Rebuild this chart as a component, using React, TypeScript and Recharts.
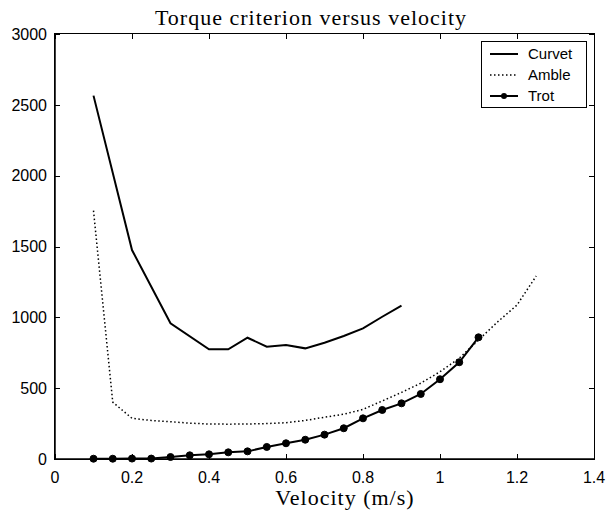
import { LineChart, Line, XAxis, YAxis } from "recharts";

// axis ticks
const xTicks = [0, 0.2, 0.4, 0.6, 0.8, 1, 1.2, 1.4];
const yTicks = [0, 500, 1000, 1500, 2000, 2500, 3000];

// Curvet gait
const curvetVelocity = [0.1, 0.2, 0.3, 0.4, 0.45, 0.5, 0.55, 0.6, 0.65, 0.7, 0.75, 0.8, 0.85, 0.9];
const curvetTorque = [2565, 1475, 958, 774, 774, 856, 793, 805, 781, 821, 868, 922, 1004, 1082];

// Amble gait
const ambleVelocity = [
  0.1, 0.15, 0.2, 0.25, 0.3, 0.35, 0.4, 0.45, 0.5, 0.55, 0.6, 0.65, 0.7, 0.75,
  0.8, 0.85, 0.9, 0.95, 1.0, 1.05, 1.1, 1.15, 1.2, 1.25,
];
const ambleTorque = [
  1753, 401, 287, 272, 263, 253, 247, 246, 247, 250, 256, 272, 295, 316,
  350, 410, 470, 535, 616, 711, 840, 969, 1087, 1292,
];

// Trot gait
const trotVelocity = [
  0.1, 0.15, 0.2, 0.25, 0.3, 0.35, 0.4, 0.45, 0.5, 0.55, 0.6, 0.65, 0.7, 0.75,
  0.8, 0.85, 0.9, 0.95, 1.0, 1.05, 1.1,
];
const trotTorque = [
  2, 2, 3, 3, 14, 26, 33, 47, 54, 85, 111, 136, 172, 217,
  287, 346, 393, 459, 563, 683, 859,
];

const toPoints = (xs: number[], ys: number[]) => xs.map((x, i) => ({ x, y: ys[i] }));

const series = [
  { name: "Curvet", data: toPoints(curvetVelocity, curvetTorque), dash: undefined, width: 2, dot: false },
  { name: "Amble", data: toPoints(ambleVelocity, ambleTorque), dash: "1.5 2.5", width: 1.5, dot: false },
  { name: "Trot", data: toPoints(trotVelocity, trotTorque), dash: undefined, width: 2, dot: true },
];

const sans = "'Liberation Sans', Arial, Helvetica, sans-serif";
const serif = "'Liberation Serif', 'Times New Roman', serif";
const xDomain = [0, 1.4];
const yDomain = [0, 3000];

// chart geometry (plot box follows from these)
const W = 609;
const H = 513;
const margin = { top: 34, right: 15, bottom: 24, left: 0 };
const X_AXIS_H = 30;
const Y_AXIS_W = 55;
const box = {
  left: margin.left + Y_AXIS_W,
  right: W - margin.right,
  top: margin.top,
  bottom: H - margin.bottom - X_AXIS_H,
};
const TICK = 5;

const BottomLabel = ({ x, y, payload }: any) => (
  <text x={x} y={y} dy="0.72em" textAnchor="middle" fontSize={16} fontFamily={sans} fill="#000">
    {payload.value}
  </text>
);
const LeftLabel = ({ x, y, payload }: any) => (
  <text x={x} y={y} dy="0.36em" textAnchor="end" fontSize={16} fontFamily={sans} fill="#000">
    {payload.value}
  </text>
);

// MATLAB box: closed frame plus inward tick marks on all four sides (plain HTML)
function AxisBox() {
  const px = (v: number) => box.left + ((v - xDomain[0]) / (xDomain[1] - xDomain[0])) * (box.right - box.left);
  const py = (v: number) => box.bottom - ((v - yDomain[0]) / (yDomain[1] - yDomain[0])) * (box.bottom - box.top);
  const mark = (left: number, top: number, width: number, height: number, key: string) => (
    <div key={key} style={{ position: "absolute", left, top, width, height, background: "#000" }} />
  );
  return (
    <div style={{ position: "absolute", left: 0, top: 0, width: W, height: H, pointerEvents: "none" }}>
      <div
        style={{
          position: "absolute",
          left: box.left - 1,
          top: box.top - 1,
          width: box.right - box.left,
          height: box.bottom - box.top,
          border: "1.5px solid #000",
        }}
      />
      {xTicks.map((t) => [
        mark(Math.round(px(t)) - 0.5, box.bottom - TICK, 1, TICK, `xb${t}`),
        mark(Math.round(px(t)) - 0.5, box.top, 1, TICK, `xt${t}`),
      ])}
      {yTicks.map((t) => [
        mark(box.left, Math.round(py(t)) - 0.5, TICK, 1, `yl${t}`),
        mark(box.right - TICK, Math.round(py(t)) - 0.5, TICK, 1, `yr${t}`),
      ])}
    </div>
  );
}

function GaitLegend() {
  return (
    <div
      style={{
        position: "absolute",
        left: 481,
        top: 41,
        width: 104,
        padding: "1px 0",
        border: "1.5px solid #000",
        background: "#fff",
        fontFamily: sans,
        fontSize: 15,
      }}
    >
      {series.map((s) => (
        <div key={s.name} style={{ display: "flex", alignItems: "center", height: 21 }}>
          <svg width={40} height={10}>
            <line x1={8} x2={36} y1={5} y2={5} stroke="#000" strokeWidth={s.width} strokeDasharray={s.dash} />
            {s.dot && <circle cx={22} cy={5} r={3} fill="#000" />}
          </svg>
          <span style={{ marginLeft: 6 }}>{s.name}</span>
        </div>
      ))}
    </div>
  );
}

export default function App() {
  return (
    <div style={{ position: "absolute", left: 0, top: 0, width: W, height: H, background: "#fff" }}>
      <div
        style={{
          position: "absolute",
          left: 311,
          top: 7,
          transform: "translateX(-50%)",
          whiteSpace: "nowrap",
          fontFamily: serif,
          fontSize: 22,
          lineHeight: "22px",
          letterSpacing: 1,
        }}
      >
        Torque criterion versus velocity
      </div>
      <LineChart width={W} height={H} margin={margin}>
        <XAxis
          dataKey="x"
          type="number"
          domain={xDomain}
          ticks={xTicks}
          height={X_AXIS_H}
          tickSize={0}
          tickMargin={12}
          tickLine={false}
          stroke="#000"
          strokeWidth={1.5}
          tick={<BottomLabel />}
        />
        <YAxis
          type="number"
          domain={yDomain}
          ticks={yTicks}
          width={Y_AXIS_W}
          tickSize={0}
          tickMargin={8}
          tickLine={false}
          stroke="#000"
          strokeWidth={1.5}
          tick={<LeftLabel />}
        />
        {series.map((s) => (
          <Line
            key={s.name}
            data={s.data}
            dataKey="y"
            name={s.name}
            type="linear"
            stroke="#000"
            strokeWidth={s.width}
            strokeDasharray={s.dash}
            dot={s.dot ? { r: 3.5, fill: "#000", stroke: "#000", strokeWidth: 1 } : false}
            activeDot={false}
            isAnimationActive={false}
          />
        ))}
      </LineChart>
      <AxisBox />
      <GaitLegend />
      <div
        style={{
          position: "absolute",
          left: 345,
          top: 490,
          transform: "translateX(-50%)",
          whiteSpace: "nowrap",
          fontFamily: serif,
          fontSize: 22,
          lineHeight: "16px",
          letterSpacing: 1,
        }}
      >
        Velocity (m/s)
      </div>
    </div>
  );
}
